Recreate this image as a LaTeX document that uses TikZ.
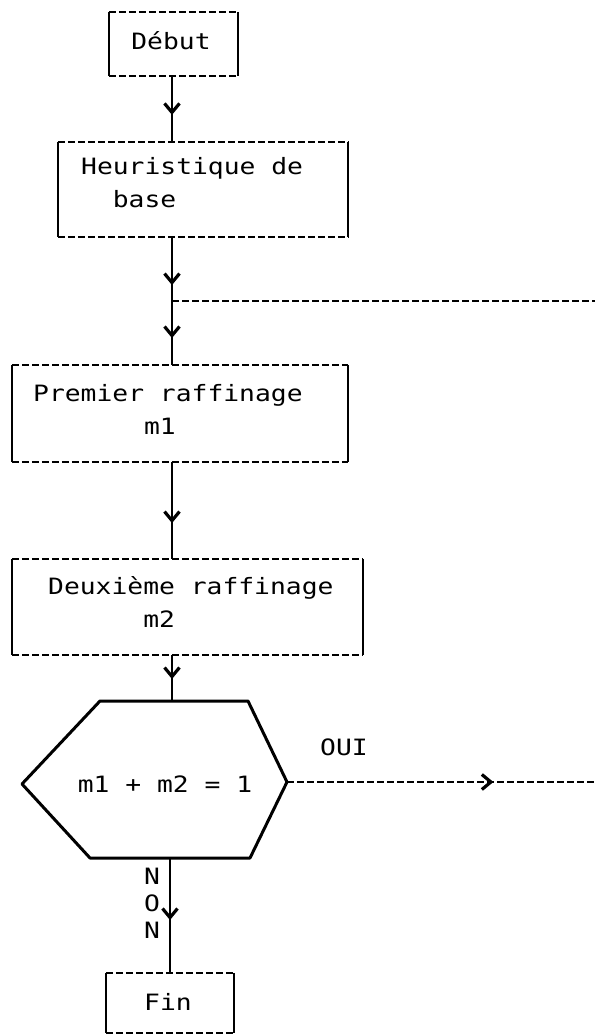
\documentclass[tikz,border=0pt]{standalone}
\usepackage{fontspec}
\setmonofont[FakeStretch=1.17]{DejaVu Sans Mono}
\usetikzlibrary{arrows.meta,decorations.markings}
\tikzset{
  edge/.style={line width=1.8pt},
  dashedge/.style={line width=1.8pt, dash pattern=on 7pt off 3pt},
  boxarea/.style={draw=none, inner sep=0pt},
  lbl/.style={font=\ttfamily\fontsize{22.5}{33}\selectfont, inner sep=0pt},
  conn/.style={line width=1.8pt},
  midarrow/.style={postaction={decorate},decoration={markings,mark=at position #1 with {\arrow{Straight Barb[length=9pt,width=15pt,line width=3.2pt]}}}},
  hexline/.style={line width=3pt, line join=round},
}
\newcommand\drawmybox[1]{%
  \draw[dashedge] (#1.north west) -- (#1.north east);
  \draw[dashedge] (#1.south west) -- (#1.south east);
  \draw[edge] (#1.north west) -- (#1.south west);
  \draw[edge] (#1.north east) -- (#1.south east);}
\begin{document}
\begin{tikzpicture}[x=1pt,y=-1pt]
\fill[white] (0,0) rectangle (595,1034);
\useasboundingbox (0,0) rectangle (595,1034);
\coordinate (stem) at (172,0);
% boxes
\node[boxarea, minimum width=129pt, minimum height=64pt] (debut) at (173.5,44) {};
\node[boxarea, minimum width=290pt, minimum height=95pt] (heur) at (203,189.5) {};
\node[boxarea, minimum width=336pt, minimum height=97pt] (prem) at (180,413.5) {};
\node[boxarea, minimum width=351pt, minimum height=96pt] (deux) at (187.5,607) {};
\node[boxarea, minimum width=128pt, minimum height=60pt] (fin) at (170,1003) {};
\drawmybox{debut}
\drawmybox{heur}
\drawmybox{prem}
\drawmybox{deux}
\drawmybox{fin}
% texts
\node[lbl] (tdebut) at (171,41) {Début};
\node[lbl, anchor=west, align=left] (theur) at (81,183) {Heuristique de\\\hphantom{xx}base};
\node[lbl, anchor=west, align=left] (tprem) at (33,409) {Premier raffinage\\\hphantom{xxxxxxx}m1};
\node[lbl, anchor=west, align=left] (tdeux) at (48,602) {Deuxième raffinage\\\hphantom{xxxxxx}m2};
\node[lbl] (tcond) at (165,784) {m1 + m2 = 1};
\node[lbl] (toui) at (344,747) {OUI};
\node[lbl, align=center, font=\ttfamily\fontsize{22.5}{27}\selectfont] (tnon) at (152,903) {N\\O\\N};
\node[lbl] (tfin) at (168,1002) {Fin};
% hexagon
\coordinate (hA) at (100,701);
\coordinate (hB) at (248,701);
\coordinate (hC) at (287,782);
\coordinate (hD) at (250,858);
\coordinate (hE) at (90,858);
\coordinate (hF) at (22,784);
\draw[hexline] (hA) -- (hB) -- (hC) -- (hD) -- (hE) -- (hF) -- cycle;
% connectors
\coordinate (br) at (172,301);
\coordinate (brend) at (595,301);
\coordinate (oend) at (595,782);
\draw[conn, midarrow=0.59] (debut.south -| stem) -- (heur.north -| stem);
\draw[conn, midarrow=0.75] (heur.south -| stem) -- (br);
\draw[conn, midarrow=0.58] (br) -- (prem.north -| stem);
\draw[dashedge] (br) -- (brend);
\draw[conn, midarrow=0.63] (prem.south -| stem) -- (deux.north -| stem);
\draw[conn, midarrow=0.52] (deux.south -| stem) -- (hA -| stem);
\draw[conn, midarrow=0.54] (hE -| fin.north) -- (fin.north);
\draw[dashedge, midarrow=0.67] (hC) -- (oend);
\end{tikzpicture}
\end{document}
